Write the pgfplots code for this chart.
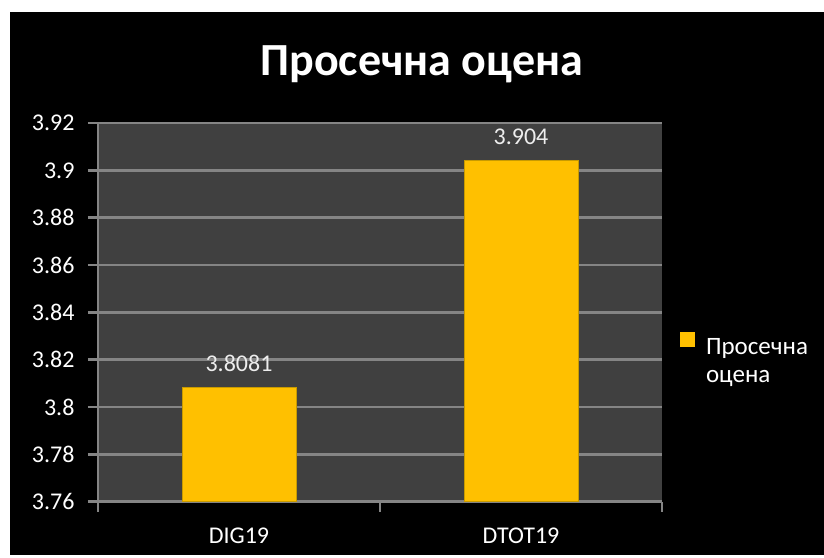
\documentclass[border=0pt]{standalone}
\usepackage{fontspec}
\setmainfont{Carlito}
\usepackage{pgfplots}
\pgfplotsset{compat=1.18}
\definecolor{barc}{HTML}{FFC000}
\definecolor{bardraw}{HTML}{C89A00}
\definecolor{plotbg}{HTML}{404040}
\definecolor{gridc}{HTML}{858585}
\definecolor{lbl}{HTML}{EDEDED}
\begin{document}
\begin{tikzpicture}
\fill[white] (0,0) rectangle (824pt,-555pt);
\fill[black] (10pt,-12pt) rectangle (824pt,-555pt);
\begin{axis}[
    at={(98pt,-501.7pt)}, anchor=south west,
    scale only axis, width=564pt, height=378.7pt,
    ybar, bar width=114pt,
    xmin=-0.5, xmax=1.5, ymin=3.76, ymax=3.92,
    xtick={-0.5,0.5,1.5}, xticklabels={},
    extra x ticks={0,1}, extra x tick labels={DIG19,DTOT19},
    extra x tick style={major tick length=0pt, grid=none},
    ytick={3.76,3.78,3.8,3.82,3.84,3.86,3.88,3.9,3.92},
    axis background/.style={fill=plotbg},
    axis lines=left, axis line style={gridc, line width=2.5pt, -},
    ymajorgrids, grid style={gridc, line width=2.5pt},
    tick align=outside, major tick length=10pt,
    tick style={gridc, line width=2.5pt},
    /pgf/number format/assume math mode=true,
    ticklabel style={white, font=\fontsize{24}{28}\selectfont},
    yticklabel style={anchor=east, xshift=-10pt},
    xticklabel style={anchor=base, yshift=-42pt},
    title={Просечна оцена},
    title style={font=\bfseries\fontsize{46}{52}\selectfont, white,
        at={(0.574,1)}, anchor=base, yshift=42pt},
    nodes near coords,
    point meta=explicit symbolic,
    every node near coord/.append style={lbl, font=\fontsize{24}{28}\selectfont,
        anchor=base, yshift=16pt},
    legend style={draw=none, fill=none, at={(1.032,0.448)}, anchor=north west,
        inner sep=0pt, column sep=9pt,
        nodes={text=white, font=\fontsize{25}{28}\selectfont}},
    legend image code/.code={\fill[barc] (0pt,-1pt) rectangle (14pt,13pt);},
]
\addplot[fill=barc, draw=bardraw, line width=0.8pt] coordinates {
    (0,3.8081) [3.8081]
    (1,3.904) [3.904]
};
\addlegendentry{\begin{tabular}[t]{@{}l@{}}Просечна\\оцена\end{tabular}}
\end{axis}
\end{tikzpicture}
\end{document}
